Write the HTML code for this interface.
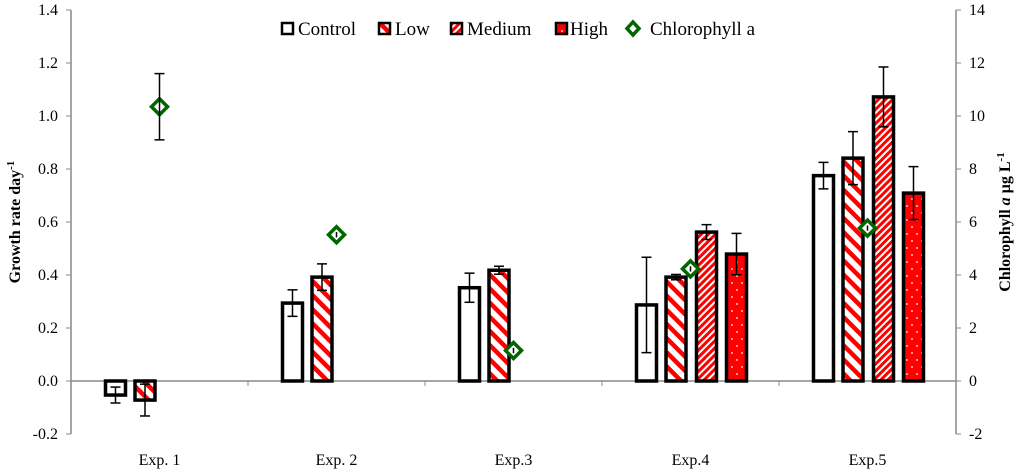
<!DOCTYPE html>
<html><head><meta charset="utf-8"><style>
body{margin:0;background:#fff;}
svg{display:block;font-family:"Liberation Serif",serif;}
</style></head><body>
<svg id="chart" width="1024" height="472">
<defs>
<pattern id="pLow" patternUnits="userSpaceOnUse" width="10" height="10" patternTransform="rotate(-45)">
<rect width="10" height="10" fill="#fff"/><rect width="4.5" height="10" fill="#f00"/></pattern>
<pattern id="pMed" patternUnits="userSpaceOnUse" width="5" height="5" patternTransform="rotate(45)">
<rect width="5" height="5" fill="#fff"/><rect width="3" height="5" fill="#f00"/></pattern>
<pattern id="pHigh" patternUnits="userSpaceOnUse" width="10" height="14">
<rect width="10" height="14" fill="#f00"/><circle cx="2" cy="3" r="0.9" fill="#fff"/><circle cx="7" cy="10" r="0.9" fill="#fff"/></pattern>
</defs>
<g id="g"></g>
</svg>
<script>
const categories=["Exp. 1","Exp. 2","Exp.3","Exp.4","Exp.5"];
const seriesNames=["Control","Low","Medium","High"];
const control=[-0.053,0.294,0.352,0.287,0.775];
const controlErr=[0.03,0.05,0.055,0.18,0.05];
const low=[-0.072,0.392,0.418,0.392,0.841];
const lowErr=[0.06,0.05,0.015,0.01,0.1];
const medium=[null,null,null,0.562,1.072];
const mediumErr=[null,null,null,0.028,0.113];
const high=[null,null,null,0.479,0.709];
const highErr=[null,null,null,0.078,0.1];
const chl=[10.35,5.52,1.15,4.23,5.77];
const chlErr=[1.25,0.1,0.1,0.1,0.1];
const leftTicks=["-0.2","0.0","0.2","0.4","0.6","0.8","1.0","1.2","1.4"];
const rightTicks=["-2","0","2","4","6","8","10","12","14"];

const NS="http://www.w3.org/2000/svg";
const g=document.getElementById('g');
function el(t,a,txt){const e=document.createElementNS(NS,t);for(const k in a)e.setAttribute(k,a[k]);if(txt!=null)e.textContent=txt;g.appendChild(e);return e;}
const X0=71,X1=956,Y0=381;
const yL=v=>Y0-v*265;
const yR=v=>Y0-v*26.5;
const cw=(X1-X0)/categories.length;
const cx=i=>X0+cw*(i+0.5);

let a=el('line',{x1:X0,y1:yL(-0.2),x2:X0,y2:yL(1.4),stroke:'#888','stroke-width':1.5});

a=el('line',{x1:X1,y1:yL(-0.2),x2:X1,y2:yL(1.4),stroke:'#888','stroke-width':1.5});

a=el('line',{x1:X0,y1:Y0,x2:X1,y2:Y0,stroke:'#888','stroke-width':1.5});

leftTicks.forEach((t,i)=>{const y=yL(parseFloat(t));
 el('line',{x1:X0-5,y1:y,x2:X0,y2:y,stroke:'#888'});
 const tx=el('text',{x:X0-13,y:y+5,'text-anchor':'end','font-size':16},t);
 });
rightTicks.forEach((t,i)=>{const y=yR(parseFloat(t));
 el('line',{x1:X1,y1:y,x2:X1+5,y2:y,stroke:'#888'});
 const tx=el('text',{x:X1+13,y:y+5,'text-anchor':'start','font-size':16},t);
 });
for(let i=1;i<categories.length;i++){const x=X0+cw*i;el('line',{x1:x,y1:Y0,x2:x,y2:Y0+5,stroke:'#888'});}
categories.forEach((c,i)=>{const tx=el('text',{x:cx(i),y:465,'text-anchor':'middle','font-size':16},c);
 });

const series=[control,low,medium,high],errs=[controlErr,lowErr,mediumErr,highErr];
const fills=['#fff','url(#pLow)','url(#pMed)','url(#pHigh)'];
const offs=[-44,-14.5,16,46];
series.forEach((s,k)=>s.forEach((v,i)=>{if(v==null)return;
 const x=cx(i)+offs[k]-10,y1=yL(Math.max(v,0)),y2=yL(Math.min(v,0));
 const r=el('rect',{x:x,y:y1,width:20,height:y2-y1,fill:fills[k],stroke:'#000','stroke-width':3.5});
 
 const e=errs[k][i],ex=cx(i)+offs[k],ya=yL(v+e),yb=yL(v-e);
 el('line',{x1:ex,y1:ya,x2:ex,y2:yb,stroke:'#000','stroke-width':1.5});
 el('line',{x1:ex-5,y1:ya,x2:ex+5,y2:ya,stroke:'#000','stroke-width':1.5});
 el('line',{x1:ex-5,y1:yb,x2:ex+5,y2:yb,stroke:'#000','stroke-width':1.5});
}));
chl.forEach((v,i)=>{const x=cx(i),y=yR(v),e=chlErr[i];
 const ya=yR(v+e),yb=yR(v-e);
 const d=el('path',{d:`M${x} ${y-8}L${x+8} ${y}L${x} ${y+8}L${x-8} ${y}Z`,fill:'#fff',stroke:'#006600','stroke-width':3.5});
 
 el('line',{x1:x,y1:ya,x2:x,y2:yb,stroke:'#000','stroke-width':1.5});
 if(e>0.3){el('line',{x1:x-5,y1:ya,x2:x+5,y2:ya,stroke:'#000','stroke-width':1.5});
 el('line',{x1:x-5,y1:yb,x2:x+5,y2:yb,stroke:'#000','stroke-width':1.5});}
});
let t=el('text',{x:0,y:0,'font-size':16,'font-weight':'bold','text-anchor':'middle',transform:'translate(20,222) rotate(-90)'});

t.innerHTML='Growth  rate day<tspan dy="-6" font-size="11">-1</tspan>';
t=el('text',{x:0,y:0,'font-size':16,'font-weight':'bold','text-anchor':'middle',transform:'translate(1010,222) rotate(-90)'});

t.innerHTML='Chlorophyll <tspan font-style="italic">a</tspan> µg L<tspan dy="-6" font-size="11">-1</tspan>';
const leg=[['Control','#fff',282,298],['Low','url(#pLow)',379,395],['Medium','url(#pMed)',451,467],['High','url(#pHigh)',556,570]];
leg.forEach(l=>{const r=el('rect',{x:l[2],y:23,width:11,height:11,fill:l[1],stroke:'#000','stroke-width':2.5});
 
 const tx=el('text',{x:l[3],y:35,'font-size':19},l[0]);
 });
const ld=el('path',{d:'M633 22L639 28.5L633 35L627 28.5Z',fill:'#fff',stroke:'#006600','stroke-width':3.5});

const lt=el('text',{x:650,y:35,'font-size':19},'Chlorophyll a');

</script>
</body></html>
